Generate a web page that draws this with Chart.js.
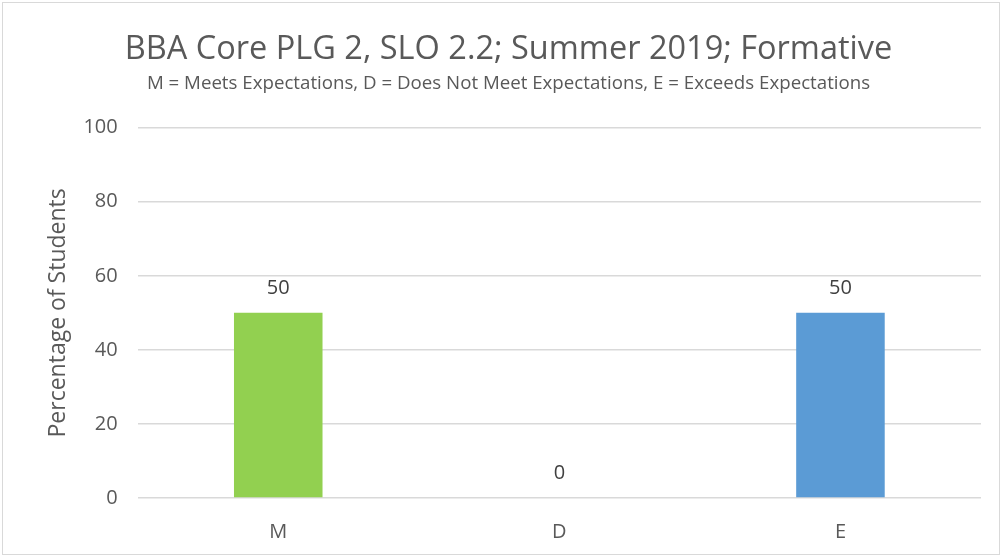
<!DOCTYPE html>
<html lang="en">
<head>
  <meta charset="UTF-8" />
  <title>BBA Core PLG 2, SLO 2.2</title>
  <script src="https://cdn.jsdelivr.net/npm/chart.js"></script>
  <style>
    html, body {
      margin: 0;
      padding: 0;
      background: #fff;
    }
    .frame {
      position: absolute;
      left: 2px;
      top: 2px;
      width: 998px;
      height: 553px;
      border: 1px solid #d9d9d9;
      box-sizing: border-box;
      pointer-events: none;
    }
    canvas {
      display: block;
    }
  </style>
</head>
<body>
  <canvas id="chart" width="1005" height="559"></canvas>
  <div class="frame"></div>

  <script>
    const categories = ['M', 'D', 'E'];
    const percentages = [50, 0, 50];
    const barColors = ['#92d050', '#ed7d31', '#5b9bd5'];
    const yTicks = [0, 20, 40, 60, 80, 100];

    const FONT = "'Open Sans', 'Noto Sans', sans-serif";
    const GREY = '#595959';

    // draws the value above each bar
    const valueLabels = {
      id: 'valueLabels',
      afterDatasetsDraw(chart) {
        const ctx = chart.ctx;
        const meta = chart.getDatasetMeta(0);
        ctx.save();
        ctx.font = '20px ' + FONT;
        ctx.fillStyle = '#404040';
        ctx.textAlign = 'center';
        ctx.textBaseline = 'middle';
        meta.data.forEach((bar, i) => {
          ctx.fillText(String(percentages[i]), bar.x, bar.y - 25);
        });
        ctx.restore();
      }
    };

    new Chart(document.getElementById('chart'), {
      type: 'bar',
      data: {
        labels: categories,
        datasets: [{
          data: percentages,
          backgroundColor: barColors,
          barPercentage: 0.63,
          categoryPercentage: 0.5
        }]
      },
      options: {
        responsive: false,
        animation: false,
        layout: { padding: { left: 36, right: 24, top: 0, bottom: 0 } },
        plugins: {
          legend: { display: false },
          tooltip: { enabled: false },
          title: {
            display: true,
            text: 'BBA Core PLG 2, SLO 2.2; Summer 2019; Formative',
            color: GREY,
            font: { family: FONT, size: 32.5, weight: 'normal' },
            padding: { top: 30.5, bottom: 0 }
          },
          subtitle: {
            display: true,
            text: 'M = Meets Expectations, D = Does Not Meet Expectations, E = Exceeds Expectations',
            color: GREY,
            font: { family: FONT, size: 18.7, weight: 'normal' },
            padding: { top: 3.3, bottom: 32.5 }
          }
        },
        scales: {
          x: {
            grid: { display: false },
            border: { display: false },
            ticks: {
              color: GREY,
              font: { family: FONT, size: 20 },
              padding: 14
            },
            afterFit(scale) { scale.height = 61; }
          },
          y: {
            min: 0,
            max: 100,
            afterBuildTicks(scale) {
              scale.ticks = yTicks.map(v => ({ value: v }));
            },
            grid: { color: '#d9d9d9', lineWidth: 1.5, drawTicks: false },
            border: { display: false },
            ticks: {
              color: GREY,
              font: { family: FONT, size: 20 },
              padding: 20
            },
            title: {
              display: true,
              text: 'Percentage of Students',
              color: GREY,
              font: { family: FONT, size: 23 },
              padding: { top: 8.2, bottom: 0 }
            },
            afterFit(scale) { scale.width = 101.7; }
          }
        }
      },
      plugins: [valueLabels]
    });
  </script>
</body>
</html>
